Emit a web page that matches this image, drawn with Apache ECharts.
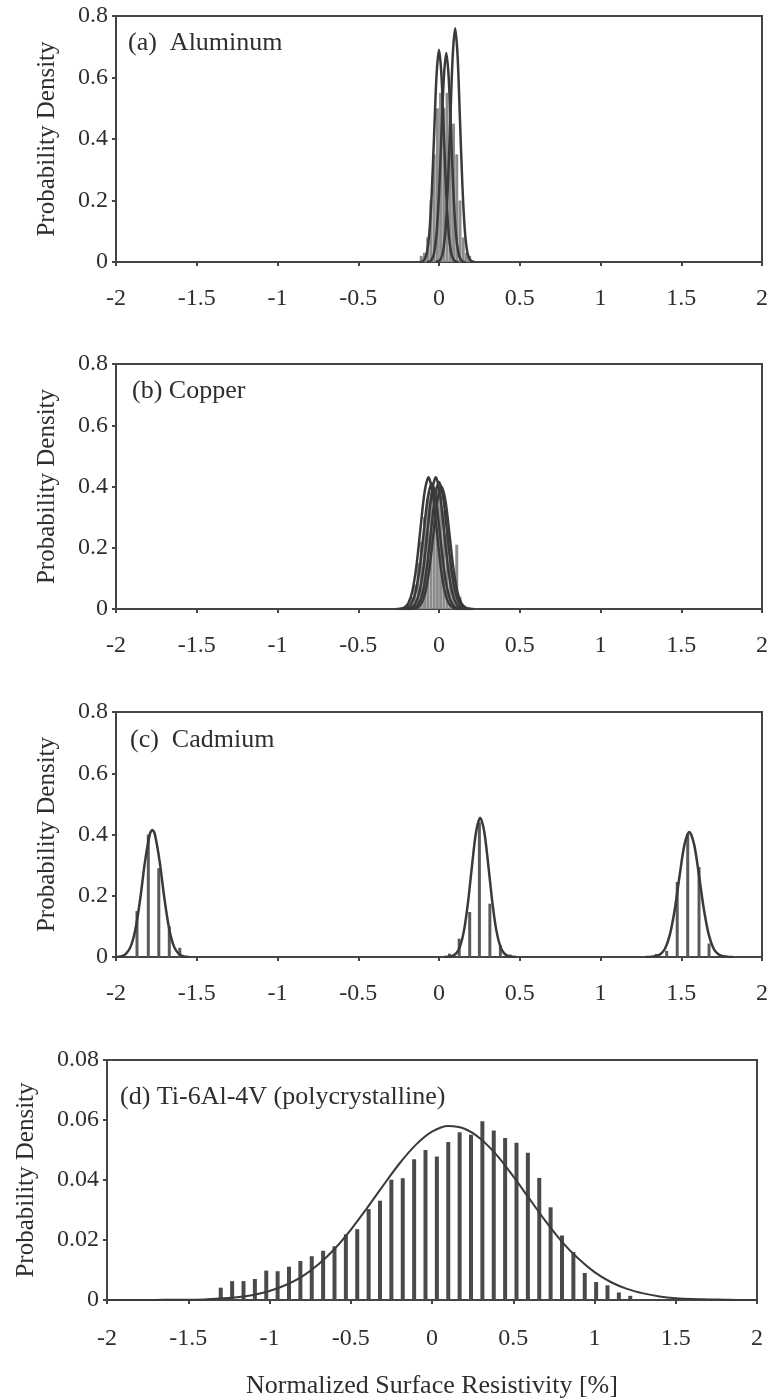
<!DOCTYPE html>
<html><head><meta charset="utf-8">
<script src="https://cdn.jsdelivr.net/npm/echarts@6/dist/echarts.min.js"></script>
<style>html,body{margin:0;padding:0;background:#fff}#c{width:773px;height:1400px}</style>
</head><body><div id="c"></div>
<script>
// ---------- DATA ----------
const panelLabels = ['(a)  Aluminum', '(b) Copper', '(c)  Cadmium', '(d) Ti-6Al-4V (polycrystalline)'];
const yAxisTitle = 'Probability Density';
const xAxisTitle = 'Normalized Surface Resistivity [%]';

// (a) Aluminum
const alBarX = [-0.11,-0.09,-0.07,-0.05,-0.03,-0.01,0.01,0.03,0.05,0.07,0.09,0.11,0.13,0.15,0.17,0.19];
const alBarY = [0.02,0.03,0.08,0.20,0.35,0.50,0.55,0.50,0.55,0.50,0.45,0.35,0.20,0.08,0.03,0.02];
const alCurve1X = [-0.12,-0.105,-0.09,-0.075,-0.06,-0.045,-0.03,-0.015,0,0.015,0.03,0.045,0.06,0.075,0.09,0.105,0.12];
const alCurve1Y = [0.0002,0.0015,0.0077,0.030,0.093,0.224,0.418,0.609,0.69,0.609,0.418,0.224,0.093,0.030,0.0077,0.0015,0.0002];
const alCurve2X = [-0.075,-0.06,-0.045,-0.03,-0.015,0,0.015,0.03,0.045,0.06,0.075,0.09,0.105,0.12,0.135,0.15,0.165];
const alCurve2Y = [0.0002,0.0015,0.0075,0.030,0.092,0.221,0.412,0.600,0.68,0.600,0.412,0.221,0.092,0.030,0.0075,0.0015,0.0002];
const alCurve3X = [-0.02,-0.005,0.01,0.025,0.04,0.055,0.07,0.085,0.10,0.115,0.13,0.145,0.16,0.175,0.19,0.205,0.22];
const alCurve3Y = [0.0002,0.0017,0.0084,0.033,0.103,0.247,0.461,0.671,0.76,0.671,0.461,0.247,0.103,0.033,0.0084,0.0017,0.0002];

// (b) Copper
const cuBarX = [-0.19,-0.17,-0.15,-0.13,-0.11,-0.09,-0.07,-0.05,-0.03,-0.01,0.01,0.03,0.05,0.07,0.09,0.11,0.13,0.15];
const cuBarY = [0.02,0.04,0.08,0.15,0.22,0.30,0.36,0.38,0.40,0.39,0.37,0.32,0.25,0.18,0.12,0.21,0.04,0.01];
const cuCurve1X = [-0.265,-0.24,-0.215,-0.19,-0.165,-0.14,-0.115,-0.09,-0.065,-0.04,-0.015,0.01,0.035,0.06,0.085,0.11,0.135];
const cuCurve1Y = [0.0001,0.0009,0.0048,0.0189,0.0582,0.140,0.261,0.379,0.43,0.379,0.261,0.140,0.0582,0.0189,0.0048,0.0009,0.0001];
const cuCurve2X = [-0.245,-0.22,-0.195,-0.17,-0.145,-0.12,-0.095,-0.07,-0.045,-0.02,0.005,0.03,0.055,0.08,0.105,0.13,0.155];
const cuCurve2Y = [0.0001,0.0009,0.0046,0.018,0.0555,0.133,0.249,0.362,0.41,0.362,0.249,0.133,0.0555,0.018,0.0046,0.0009,0.0001];
const cuCurve3X = [-0.22,-0.195,-0.17,-0.145,-0.12,-0.095,-0.07,-0.045,-0.02,0.005,0.03,0.055,0.08,0.105,0.13,0.155,0.18];
const cuCurve3Y = [0.0001,0.0009,0.0048,0.0189,0.0582,0.140,0.261,0.379,0.43,0.379,0.261,0.140,0.0582,0.0189,0.0048,0.0009,0.0001];
const cuCurve4X = [-0.2,-0.175,-0.15,-0.125,-0.1,-0.075,-0.05,-0.025,0,0.025,0.05,0.075,0.1,0.125,0.15,0.175,0.2];
const cuCurve4Y = [0.0001,0.0009,0.0046,0.0182,0.0561,0.135,0.252,0.366,0.415,0.366,0.252,0.135,0.0561,0.0182,0.0046,0.0009,0.0001];
const cuCurve5X = [-0.185,-0.16,-0.135,-0.11,-0.085,-0.06,-0.035,-0.01,0.015,0.04,0.065,0.09,0.115,0.14,0.165,0.19,0.215];
const cuCurve5Y = [0.0001,0.0009,0.0044,0.0176,0.0541,0.130,0.243,0.353,0.40,0.353,0.243,0.130,0.0541,0.0176,0.0044,0.0009,0.0001];

// (c) Cadmium
const cdBarX = [-1.87,-1.80,-1.735,-1.67,-1.605, 0.065,0.125,0.19,0.25,0.315,0.38,0.44, 1.345,1.41,1.475,1.54,1.61,1.672];
const cdBarY = [0.15,0.40,0.29,0.10,0.03, 0.011,0.06,0.147,0.44,0.174,0.038,0.008, 0.01,0.02,0.245,0.403,0.294,0.044];
const cdCurve1X = [-2.0,-1.97,-1.94,-1.91,-1.88,-1.85,-1.82,-1.79,-1.775,-1.76,-1.73,-1.70,-1.67,-1.64,-1.61,-1.58,-1.55];
const cdCurve1Y = [0.0004,0.0021,0.0095,0.033,0.090,0.190,0.313,0.402,0.415,0.402,0.313,0.190,0.090,0.033,0.0095,0.0021,0.0004];
const cdCurve2X = [0.03,0.055,0.08,0.105,0.13,0.155,0.18,0.205,0.23,0.255,0.28,0.305,0.33,0.355,0.38,0.405,0.43,0.455,0.48];
const cdCurve2Y = [0.0001,0.0006,0.0029,0.011,0.034,0.087,0.180,0.301,0.410,0.455,0.410,0.301,0.180,0.087,0.034,0.011,0.0029,0.0006,0.0001];
const cdCurve3X = [1.28,1.31,1.34,1.37,1.40,1.43,1.46,1.49,1.52,1.55,1.58,1.61,1.64,1.67,1.70,1.73,1.76,1.79,1.82];
const cdCurve3Y = [0.0001,0.0004,0.0022,0.0088,0.028,0.074,0.156,0.266,0.367,0.408,0.367,0.266,0.156,0.074,0.028,0.0088,0.0022,0.0004,0.0001];

// (d) Ti-6Al-4V
const tiBarX = [-1.30,-1.23,-1.16,-1.09,-1.02,-0.95,-0.88,-0.81,-0.74,-0.67,-0.60,-0.53,-0.46,-0.39,-0.32,-0.25,-0.18,-0.11,-0.04,0.03,0.10,0.17,0.24,0.31,0.38,0.45,0.52,0.59,0.66,0.73,0.80,0.87,0.94,1.01,1.08,1.15,1.22];
const tiBarY = [0.0041,0.0063,0.0063,0.0070,0.0098,0.0096,0.0111,0.0130,0.0146,0.0164,0.0179,0.0219,0.0236,0.0303,0.0331,0.0401,0.0406,0.0469,0.0500,0.0478,0.0527,0.0559,0.0551,0.0596,0.0565,0.0540,0.0524,0.0491,0.0407,0.0309,0.0215,0.0160,0.0090,0.0060,0.0049,0.0025,0.0014];
const tiCurveX = [-2.0,-1.9,-1.8,-1.7,-1.6,-1.5,-1.4,-1.3,-1.2,-1.1,-1.0,-0.9,-0.8,-0.7,-0.6,-0.5,-0.4,-0.3,-0.2,-0.1,0.0,0.1,0.2,0.3,0.4,0.5,0.6,0.7,0.8,0.9,1.0,1.1,1.2,1.3,1.4,1.5,1.6,1.7,1.8,1.9,2.0];
const tiCurveY = [0.0000,0.0000,0.0000,0.0000,0.0001,0.0001,0.0002,0.0005,0.0009,0.0017,0.0030,0.0050,0.0078,0.0118,0.0170,0.0234,0.0306,0.0382,0.0455,0.0517,0.0561,0.0580,0.0571,0.0537,0.0482,0.0412,0.0337,0.0262,0.0194,0.0138,0.0093,0.0060,0.0037,0.0022,0.0012,0.0006,0.0003,0.0002,0.0001,0.0000,0.0000];

// ---------- CHART ----------
const FONT = 'Liberation Serif, Times New Roman, serif';
const INK = '#2e2e2e';
const AXIS = '#454545';
const zip = (xs, ys) => xs.map((x, i) => [x, ys[i]]);

const gridBoxes = [
  {left:116, right:11, top:16, height:246},
  {left:116, right:11, top:364, height:245},
  {left:116, right:11, top:712, height:245},
  {left:107, right:16, top:1060, height:246}
];
const labelPos = [
  {left:128, top:30}, {left:132, top:378}, {left:130, top:727}, {left:120, top:1084}
];

const grid = gridBoxes.map(g => Object.assign({show:true, borderColor:AXIS, borderWidth:2, backgroundColor:'transparent'}, g));

const xAxis = gridBoxes.map((g, i) => ({
  type:'value', gridIndex:i, min:-2, max:2, interval:0.5,
  axisLine:{show:true, onZero:false, lineStyle:{color:AXIS, width:2}},
  axisTick:{show:true, inside:false, length:4, lineStyle:{color:AXIS, width:2}},
  axisLabel:{fontFamily:FONT, fontSize:24, color:INK, margin: i === 3 ? 27 : 25},
  splitLine:{show:false},
  name: i === 3 ? xAxisTitle : '',
  nameLocation:'middle', nameGap:73,
  nameTextStyle:{fontFamily:FONT, fontSize:26, color:INK}
}));

const yAxis = gridBoxes.map((g, i) => ({
  type:'value', gridIndex:i, min:0, max: i === 3 ? 0.08 : 0.8, interval: i === 3 ? 0.02 : 0.2,
  axisLine:{show:true, onZero:false, lineStyle:{color:AXIS, width:2}},
  axisTick:{show:true, inside:false, length:4, lineStyle:{color:AXIS, width:2}},
  axisLabel:{fontFamily:FONT, fontSize:24, color:INK, margin:8},
  splitLine:{show:false},
  name: yAxisTitle, nameLocation:'middle', nameRotate:90,
  nameGap: i === 3 ? 68 : 56,
  nameTextStyle:{fontFamily:FONT, fontSize:25, color:INK}
}));

const curve = (gi, xs, ys) => ({
  type:'line', xAxisIndex:gi, yAxisIndex:gi, data:zip(xs, ys),
  showSymbol:false, smooth:0.3, z:4,
  lineStyle:{color:'#3a3a3a', width:2.5}
});
const bars = (gi, xs, ys, w, color) => ({
  type:'bar', xAxisIndex:gi, yAxisIndex:gi, data:zip(xs, ys),
  barWidth:w, itemStyle:{color:color}, z:2
});

const series = [
  bars(0, alBarX, alBarY, 3, '#8c8c8c'),
  curve(0, alCurve1X, alCurve1Y), curve(0, alCurve2X, alCurve2Y), curve(0, alCurve3X, alCurve3Y),
  bars(1, cuBarX, cuBarY, 3, '#8c8c8c'),
  curve(1, cuCurve1X, cuCurve1Y), curve(1, cuCurve2X, cuCurve2Y), curve(1, cuCurve3X, cuCurve3Y),
  curve(1, cuCurve4X, cuCurve4Y), curve(1, cuCurve5X, cuCurve5Y),
  bars(2, cdBarX, cdBarY, 3, '#5a5a5a'),
  curve(2, cdCurve1X, cdCurve1Y), curve(2, cdCurve2X, cdCurve2Y), curve(2, cdCurve3X, cdCurve3Y),
  bars(3, tiBarX, tiBarY, 4, '#4a4a4a'),
  Object.assign(curve(3, tiCurveX, tiCurveY), {lineStyle:{color:'#3a3a3a', width:2}})
];

const title = panelLabels.map((t, i) => ({
  text:t, left:labelPos[i].left, top:labelPos[i].top, padding:0,
  textStyle:{fontFamily:FONT, fontSize:26, fontWeight:'normal', color:INK}
}));

const chart = echarts.init(document.getElementById('c'), null, {renderer:'canvas'});
chart.setOption({animation:false, backgroundColor:'#fff', title, grid, xAxis, yAxis, series});
</script></body></html>
